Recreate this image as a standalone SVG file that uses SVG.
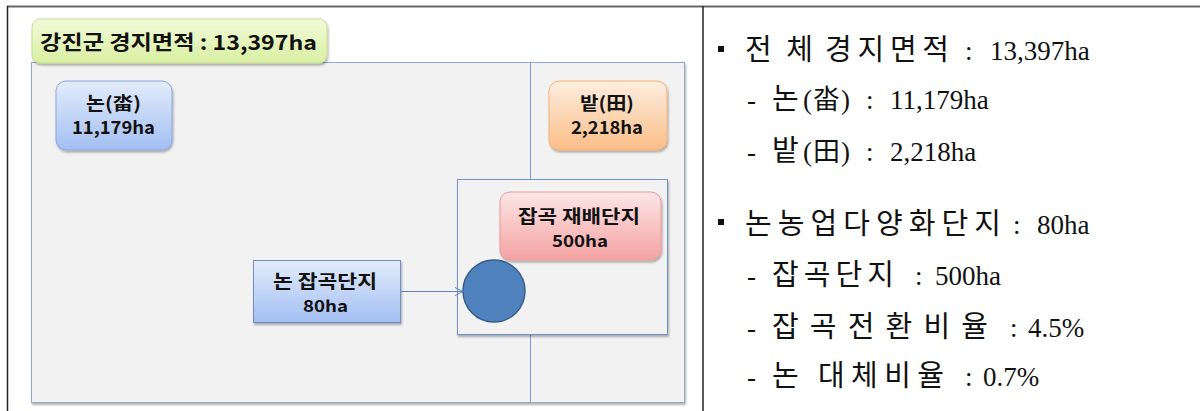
<svg xmlns="http://www.w3.org/2000/svg" width="1200" height="411" viewBox="0 0 1200 411">
<style>
.lb{font-family:"Noto Sans CJK KR","Noto Sans",sans-serif;font-weight:bold;fill:#111;text-anchor:start;font-size:18px}
.sm{font-size:16px}
.frame{fill:#f2f2f2;stroke:#8ea9d2;stroke-width:1}
.conn{fill:none;stroke:#5b84c4;stroke-width:1}
</style>
<defs>
<linearGradient id="gGreen" x1="0" y1="0" x2="0" y2="1"><stop offset="0" stop-color="#f2fad9"/><stop offset="1" stop-color="#d9efa2"/></linearGradient>
<linearGradient id="gBlue" x1="0" y1="0" x2="0" y2="1"><stop offset="0" stop-color="#e3ecfb"/><stop offset="1" stop-color="#a2bff2"/></linearGradient>
<linearGradient id="gOrange" x1="0" y1="0" x2="0" y2="1"><stop offset="0" stop-color="#fdeede"/><stop offset="1" stop-color="#fbbd88"/></linearGradient>
<linearGradient id="gPink" x1="0" y1="0" x2="0" y2="1"><stop offset="0" stop-color="#fde6e6"/><stop offset="1" stop-color="#f4a2a2"/></linearGradient>
<filter id="sh" x="-10%" y="-10%" width="130%" height="140%"><feDropShadow dx="1" dy="2" stdDeviation="1.2" flood-color="#000" flood-opacity="0.3"/></filter>
<marker id="arr" markerWidth="10" markerHeight="10" refX="9" refY="5" orient="auto" markerUnits="userSpaceOnUse"><path d="M1,1 L9,5 L1,9" fill="none" stroke="#5b84c4" stroke-width="1"/></marker>
</defs>
<rect x="0" y="0" width="1200" height="411" fill="#fff"/>
<line x1="7" y1="6.5" x2="1200" y2="6.5" stroke="#666" stroke-width="2"/>
<line x1="7.5" y1="6" x2="7.5" y2="411" stroke="#222" stroke-width="1.5"/>
<line x1="703" y1="6" x2="703" y2="411" stroke="#222" stroke-width="1.5"/>
<g id="frame-main">
<rect class="frame" x="31.5" y="62.5" width="653" height="340" filter="url(#sh)"/>
<line x1="530.5" y1="62.5" x2="530.5" y2="402.5" stroke="#7f9ccc" stroke-width="1"/>
</g>
<g id="frame-inner">
<rect x="457.5" y="179.5" width="210" height="155" fill="#f2f2f2" stroke="#6f93cf" stroke-width="1" filter="url(#sh)"/>
</g>
<g id="title">
<rect x="32" y="19" width="295" height="44" rx="8" fill="url(#gGreen)" stroke="#c6dd95" stroke-width="1" filter="url(#sh)"/>
<text class="lb" x="40" y="50" style="font-size:20px" textLength="277" lengthAdjust="spacingAndGlyphs">강진군 경지면적 : 13,397ha</text>
</g>
<g id="node-non">
<rect x="56" y="81" width="116" height="69" rx="10" fill="url(#gBlue)" stroke="#8aa8dc" stroke-width="1" filter="url(#sh)"/>
<text class="lb" x="86" y="110" textLength="55" lengthAdjust="spacingAndGlyphs">논(畓)</text>
<text class="lb" x="72" y="134" textLength="83" lengthAdjust="spacingAndGlyphs">11,179ha</text>
</g>
<g id="node-bat">
<rect x="549" y="81" width="118" height="69" rx="10" fill="url(#gOrange)" stroke="#f2b27a" stroke-width="1" filter="url(#sh)"/>
<text class="lb" x="580" y="110" textLength="54" lengthAdjust="spacingAndGlyphs">밭(田)</text>
<text class="lb" x="571" y="134" textLength="72" lengthAdjust="spacingAndGlyphs">2,218ha</text>
</g>
<g id="node-japgok-jaebae">
<rect x="500" y="192" width="161" height="68" rx="10" fill="url(#gPink)" stroke="#e89a9a" stroke-width="1" filter="url(#sh)"/>
<text class="lb sm" x="518" y="223" textLength="122" lengthAdjust="spacingAndGlyphs" style="font-size:18px">잡곡 재배단지</text>
<text class="lb sm" x="552" y="247" textLength="56" lengthAdjust="spacingAndGlyphs">500ha</text>
</g>
<g id="node-non-japgok">
<rect x="253.5" y="260.5" width="147" height="62" fill="url(#gBlue)" stroke="#6f8fc8" stroke-width="1" filter="url(#sh)"/>
<text class="lb" x="273" y="288" textLength="104" lengthAdjust="spacingAndGlyphs">논 잡곡단지</text>
<text class="lb sm" x="303" y="312" textLength="45" lengthAdjust="spacingAndGlyphs">80ha</text>
</g>
<g id="node-circle">
<circle cx="494" cy="291" r="31" fill="#4f81bd" stroke="#385d8a" stroke-width="1.5"/>
</g>
<g id="connectors">
<line class="conn" x1="401" y1="291.5" x2="463" y2="291.5" marker-end="url(#arr)"/>
</g>
<g id="notes" fill="#111">
<rect x="718" y="46" width="6" height="6"/>
<rect x="718" y="219" width="6" height="6"/>
<g style="font-family:'Noto Sans CJK KR',sans-serif;font-size:29px;font-weight:400">
<text x="745" y="60" textLength="68" lengthAdjust="spacing">전체</text>
<text x="825" y="60" textLength="124" lengthAdjust="spacing">경지면적</text>
<text x="772" y="109" textLength="29">논</text>
<text x="772" y="161" textLength="29">밭</text>
<text x="745" y="234" textLength="256" lengthAdjust="spacing">논농업다양화단지</text>
<text x="772" y="285" textLength="122" lengthAdjust="spacing">잡곡단지</text>
<text x="772" y="337" textLength="216" lengthAdjust="spacing">잡곡전환비율</text>
<text x="772" y="386">논</text>
<text x="818" y="386" textLength="126" lengthAdjust="spacing">대체비율</text>
</g>
<g style="font-family:'Noto Sans CJK KR',sans-serif;font-size:27px;font-weight:400">
<text x="813" y="109">畓</text>
<text x="813" y="161">田</text>
</g>
<g style="font-family:'Liberation Serif','Times New Roman',serif;font-size:27px;font-weight:400">
<text x="965" y="60">:</text><text x="990" y="60">13,397ha</text>
<text x="747" y="109">-</text><text x="803" y="109">(</text><text x="841" y="109">)</text><text x="866" y="109">:</text><text x="890" y="109">11,179ha</text>
<text x="747" y="161">-</text><text x="803" y="161">(</text><text x="841" y="161">)</text><text x="866" y="161">:</text><text x="890" y="161">2,218ha</text>
<text x="1013" y="234">:</text><text x="1037" y="234">80ha</text>
<text x="747" y="285">-</text><text x="915" y="285">:</text><text x="935" y="285">500ha</text>
<text x="747" y="337">-</text><text x="1010" y="337">:</text><text x="1028" y="337">4.5%</text>
<text x="747" y="386">-</text><text x="965" y="386">:</text><text x="983" y="386">0.7%</text>
</g>
</g>
</svg>
